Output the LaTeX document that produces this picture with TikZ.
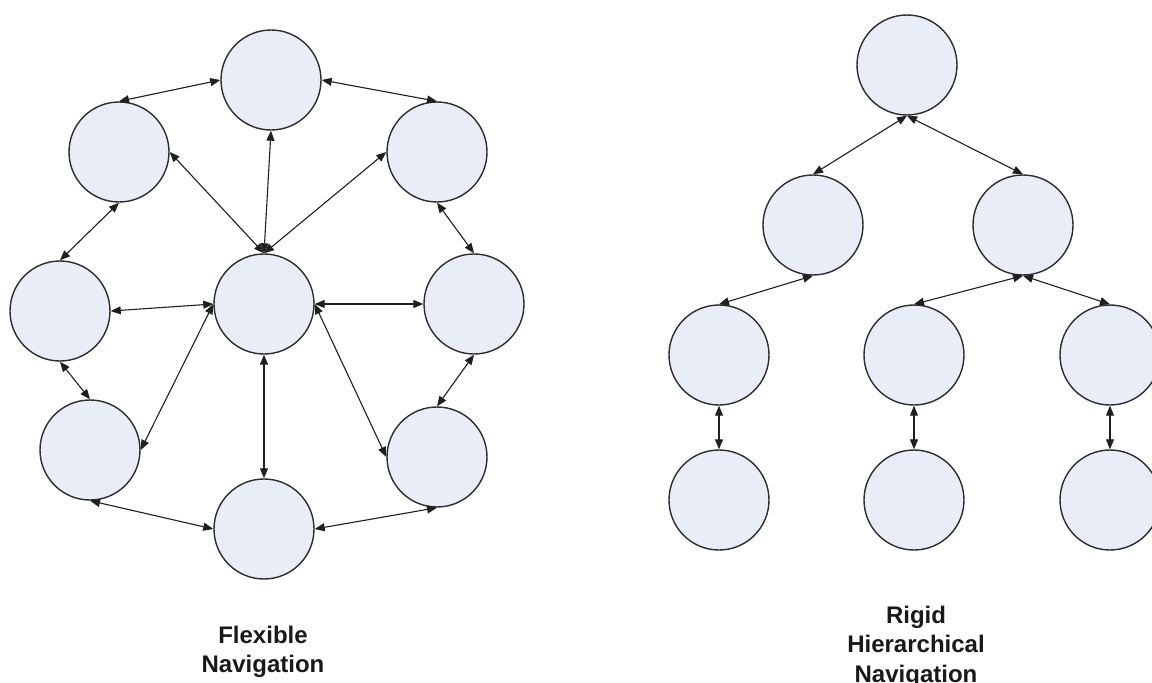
\documentclass[tikz,border=0pt]{standalone}
\usepackage{fontspec}
\setmainfont{Liberation Sans}
\usetikzlibrary{arrows.meta}
\definecolor{pagefill}{RGB}{232,237,247}
\definecolor{rimgrey}{RGB}{45,45,45}
\begin{document}
\begin{tikzpicture}[x=1pt,y=-1pt,
  page/.style={circle, draw=rimgrey, fill=pagefill, line width=1.4pt,
               minimum size=100pt, inner sep=0pt},
  link/.style={line width=1.1pt, draw=black!88,
               {Triangle[length=10pt,width=8pt]}-{Triangle[length=10pt,width=8pt]}},
  caption/.style={font=\bfseries\fontsize{24}{29.5}\selectfont, align=center,
                  text=black!90, inner sep=0pt, anchor=north}
]
\useasboundingbox (0,0) rectangle (1152,683);
\clip (0,0) rectangle (1152,683);

% flexible navigation: every page links to its neighbours and to the hub
\node[page] (ft)  at (271,80)  {};
\node[page] (ful) at (119,152) {};
\node[page] (fur) at (437,152) {};
\node[page] (fml) at (60,311)  {};
\node[page] (fc)  at (264,304) {};
\node[page] (fmr) at (474,304) {};
\node[page] (fll) at (90,450)  {};
\node[page] (flr) at (437,457) {};
\node[page] (fb)  at (264,529) {};

\draw[link] (ft.west)  -- (ful.north);
\draw[link] (ft.east)  -- (fur.north);
\draw[link] (fc.north) -- (ft.south);
\draw[link] (fc.north) -- (ful.east);
\draw[link] (fc.north) -- (fur.west);
\draw[link] (ful.south) -- (fml.north);
\draw[link] (fur.south) -- (fmr.north);
\draw[link] (fml.east) -- (fc.west);
\draw[link] (fc.east)  -- (fmr.west);
\draw[link] (fc.west)  -- (fll.east);
\draw[link] (fc.east)  -- (flr.west);
\draw[link] (fc.south) -- (fb.north);
\draw[link] (fml.south) -- (fll.north);
\draw[link] (fmr.south) -- (flr.north);
\draw[link] (fll.south) -- (fb.west);
\draw[link] (fb.east)  -- (flr.south);

\node[caption] (flexcap) at (263,625.5) {Flexible\\Navigation};

% rigid hierarchical navigation: a strict tree
\node[page] (r0)  at (907,65)   {};
\node[page] (r1a) at (813,225)  {};
\node[page] (r1b) at (1023,225) {};
\node[page] (r2a) at (719,355)  {};
\node[page] (r2b) at (914,355)  {};
\node[page] (r2c) at (1110,355) {};
\node[page] (r3a) at (719,500)  {};
\node[page] (r3b) at (914,500)  {};
\node[page] (r3c) at (1110,500) {};

\draw[link] (r0.south)  -- (r1a.north);
\draw[link] (r0.south)  -- (r1b.north);
\draw[link] (r1a.south) -- (r2a.north);
\draw[link] (r1b.south) -- (r2b.north);
\draw[link] (r1b.south) -- (r2c.north);
\draw[link] (r2a.south) -- (r3a.north);
\draw[link] (r2b.south) -- (r3b.north);
\draw[link] (r2c.south) -- (r3c.north);

\node[caption] (rigidcap) at (916,605.8) {Rigid\\Hierarchical\\Navigation};
\end{tikzpicture}
\end{document}
